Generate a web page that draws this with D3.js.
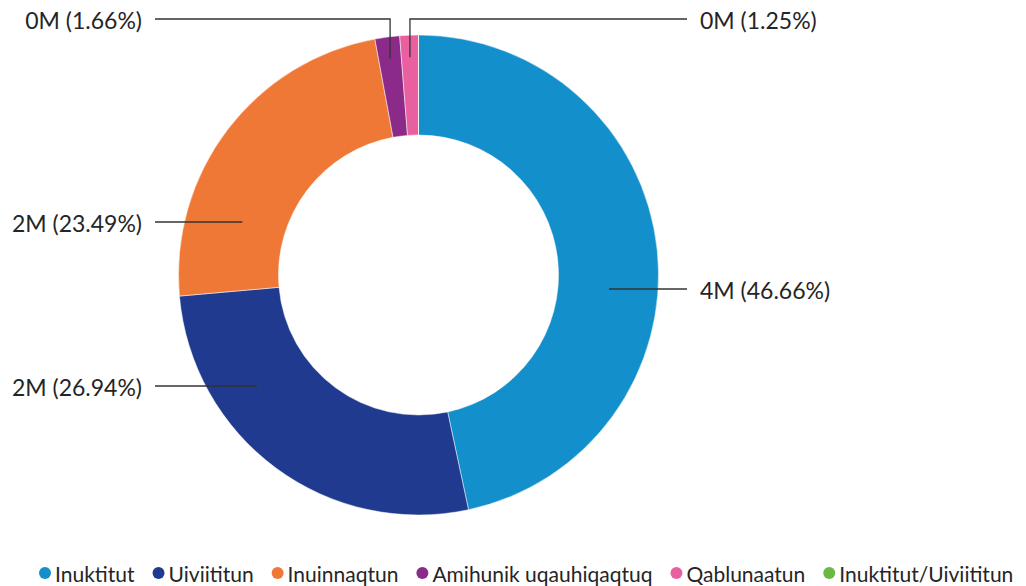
<!DOCTYPE html>
<html><head><meta charset="utf-8">
<script src="https://cdn.jsdelivr.net/npm/d3@7"></script>
<style>body{margin:0;background:#fff}svg{display:block}</style>
</head><body>
<svg id="c" width="1026" height="586"></svg>
<script>
const categories = ["Inuktitut","Uiviititun","Inuinnaqtun","Amihunik uqauhiqaqtuq","Qablunaatun","Inuktitut/Uiviititun"];
const values = [4012760, 2316840, 2020140, 142760, 107500, 0];
const colors = ["#138fcb","#1f3a8f","#f07836","#8b2a88","#e8609f","#6bb944"];

const W=1026,H=586,cx=418.5,cy=275,R=240,r0=140;
const svg=d3.select("#c");
const font="Lato, 'Open Sans', sans-serif";
const total=d3.sum(values);
const pie=d3.pie().sort(null).value(d=>d)(values);
const arc=d3.arc().innerRadius(r0).outerRadius(R);
const g=svg.append("g").attr("transform",`translate(${cx},${cy})`);
g.selectAll("path").data(pie).join("path").attr("d",arc).attr("fill",(d,i)=>colors[i])
 .attr("stroke","#fff").attr("stroke-width",0.5);

// label layout (annotation placement)
const labelLayout=[
 {y:289, r:191},
 {y:386, r:196},
 {y:222, r:184},
 {y:19, r:218, vertical:true},
 {y:19, r:218, vertical:true}
];
const lineL=155, lineR=687, txtL=142, txtR=700;
pie.forEach((d,i)=>{
  if(!labelLayout[i]||d.value===0) return;
  const L=labelLayout[i];
  const mid=(d.startAngle+d.endAngle)/2;
  const right=L.vertical ? (i===4) : Math.sin(mid)>0;
  const pct=d.value/total*100;
  const txt=`${Math.round(d.value/1e6)}M (${pct.toFixed(2)}%)`;
  let pts;
  if(L.vertical){
    const px=cx+L.r*Math.sin(mid), py=cy-L.r*Math.cos(mid);
    pts=[[px,py],[px,L.y],[right?lineR:lineL,L.y]];
  } else {
    const dy=L.y-cy; const dx=Math.sqrt(L.r*L.r-dy*dy);
    const px=right?cx+dx:cx-dx;
    pts=[[px,L.y],[right?lineR:lineL,L.y]];
  }
  svg.append("path").attr("d",d3.line()(pts)).attr("fill","none").attr("stroke","#333").attr("stroke-width",1.3);
  svg.append("text").attr("x",right?txtR:txtL).attr("y",L.y+1).attr("dominant-baseline","central")
   .attr("text-anchor",right?"start":"end").attr("font-family",font).attr("font-size",23).attr("fill","#252525").text(txt);
});

// legend
const lg=svg.append("g");
let x=45;
categories.forEach((c,i)=>{
  lg.append("circle").attr("cx",x).attr("cy",573).attr("r",6).attr("fill",colors[i]);
  const t=lg.append("text").attr("x",x+10).attr("y",573.5).attr("dominant-baseline","central")
    .attr("font-family",font).attr("font-size",21).attr("fill","#252525").text(c);
  x+=10+t.node().getComputedTextLength()+24;
});
</script>
</body></html>
